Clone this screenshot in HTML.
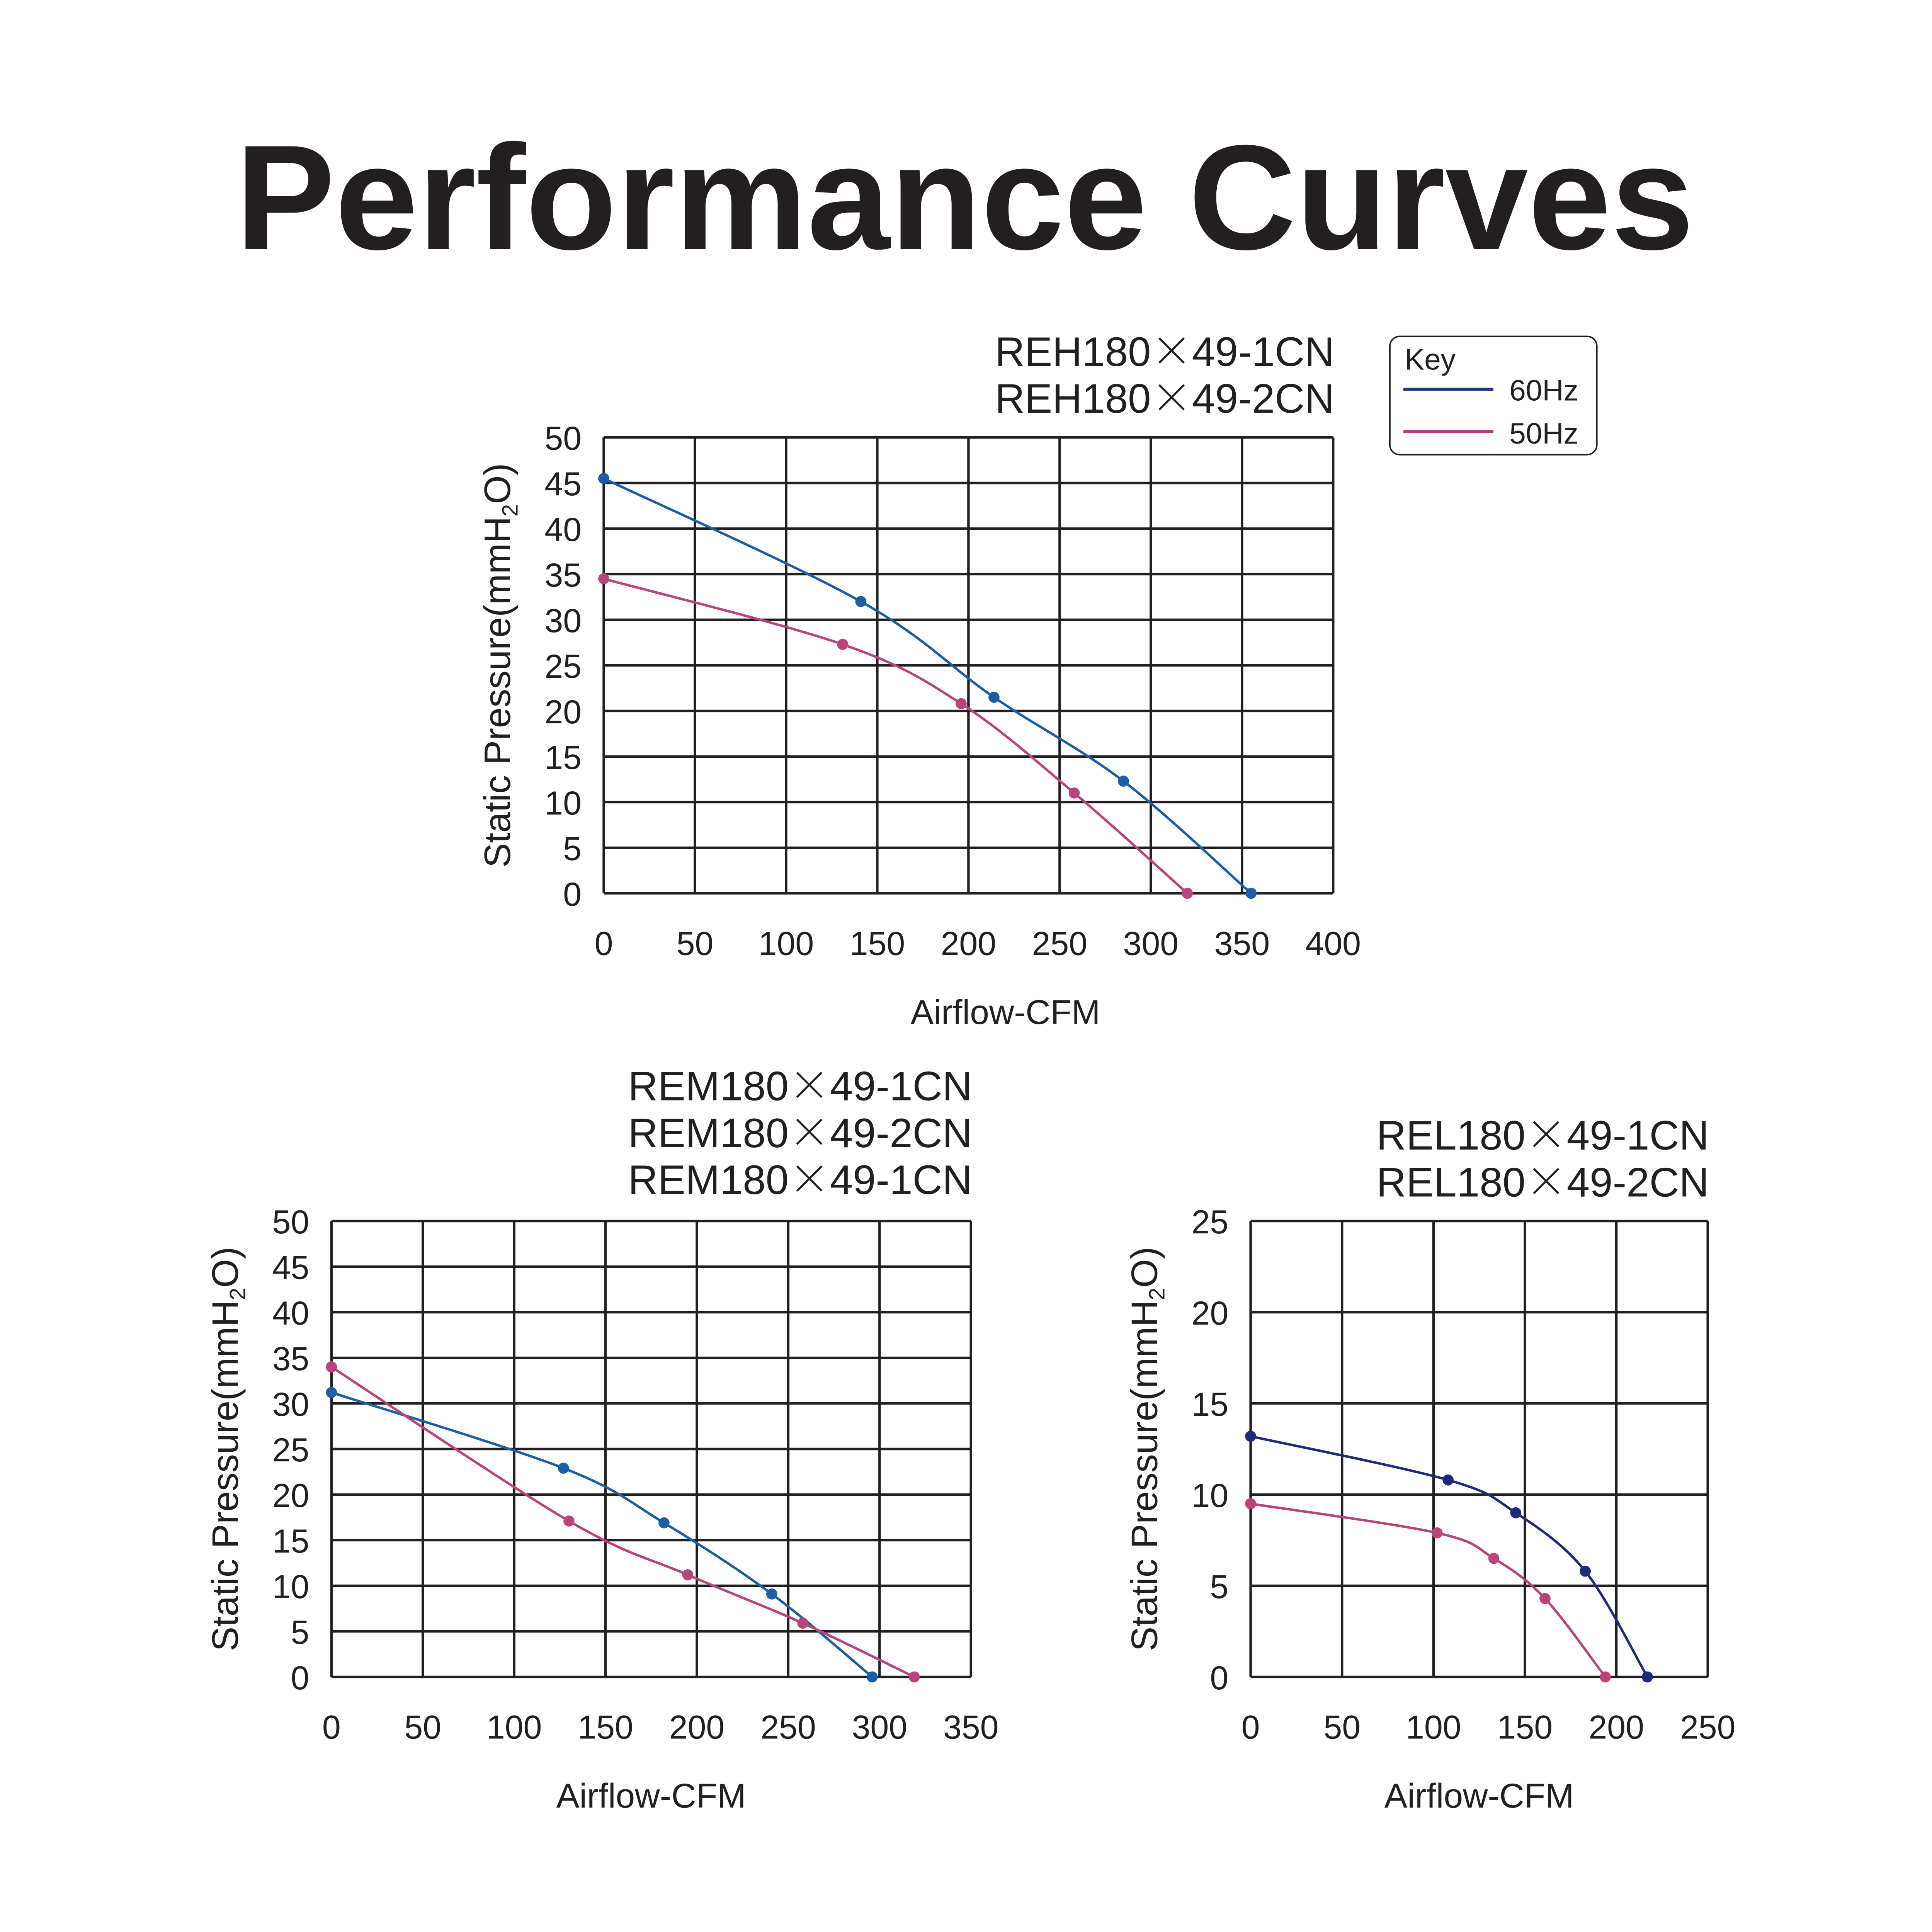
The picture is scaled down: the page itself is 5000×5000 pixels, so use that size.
<!DOCTYPE html>
<html><head><meta charset="utf-8"><style>
html,body{margin:0;padding:0;background:#fff}
svg{display:block}
text{font-family:"Liberation Sans",Arial,sans-serif;fill:#231f20}
.x{font-family:"Noto Sans CJK SC","Liberation Sans",sans-serif;font-weight:200}
</style></head><body>
<svg id="svg" width="5000" height="5000" viewBox="0 0 1568 1568" xmlns="http://www.w3.org/2000/svg">
<rect width="1568" height="1568" fill="#fff"/>
<text x="783" y="202" text-anchor="middle" font-size="121" font-weight="bold" fill="#000">Performance Curves</text>
<g id="c1"></g><g id="c2"></g><g id="c3"></g>
<g>
<rect x="1128" y="273" width="168" height="96" rx="8" fill="none" stroke="#231f20" stroke-width="1.2"/>
<text x="1140" y="300" font-size="24">Key</text>
<line x1="1139" y1="316" x2="1212" y2="316" stroke="#1f3a8a" stroke-width="2.5"/>
<text x="1225" y="325" font-size="24">60Hz</text>
<line x1="1139" y1="350" x2="1212" y2="350" stroke="#b83a78" stroke-width="2.5"/>
<text x="1225" y="360" font-size="24">50Hz</text>
</g>
</svg>
<script>
// Chart 1 data
const c1XTicks=[0,50,100,150,200,250,300,350,400];
const c1YTicks=[0,5,10,15,20,25,30,35,40,45,50];
const c1X60=[0,141,214,285,355];
const c1Y60=[45.5,32,21.5,12.3,0];
const c1X50=[0,131,196,258,320];
const c1Y50=[34.5,27.3,20.8,11,0];
// Chart 2 data
const c2XTicks=[0,50,100,150,200,250,300,350];
const c2YTicks=[0,5,10,15,20,25,30,35,40,45,50];
const c2X60=[0,127,182,241,296];
const c2Y60=[31.2,22.9,16.9,9.1,0];
const c2X50=[0,130,195,258,319];
const c2Y50=[34,17.1,11.2,5.9,0];
// Chart 3 data
const c3XTicks=[0,50,100,150,200,250];
const c3YTicks=[0,5,10,15,20,25];
const c3X60=[0,108,145,183,217];
const c3Y60=[13.2,10.8,9,5.8,0];
const c3X50=[0,102,133,161,194];
const c3Y50=[9.5,7.9,6.5,4.3,0];

const NS="http://www.w3.org/2000/svg";
function mk(p,tag,attrs,txt){const e=document.createElementNS(NS,tag);for(const k in attrs)e.setAttribute(k,attrs[k]);if(txt!==undefined)e.textContent=txt;p.appendChild(e);return e;}
function path(pts){let d="M"+pts[0][0]+","+pts[0][1];for(let i=0;i<pts.length-1;i++){const p0=pts[i-1]||pts[i],p1=pts[i],p2=pts[i+1],p3=pts[i+2]||p2;d+=" C"+(p1[0]+(p2[0]-p0[0])/6)+","+(p1[1]+(p2[1]-p0[1])/6)+" "+(p2[0]-(p3[0]-p1[0])/6)+","+(p2[1]-(p3[1]-p1[1])/6)+" "+p2[0]+","+p2[1];}return d;}
function chart(id,x0,x1,y0,y1,xt,yt,titles,tY,tX,series){
  const g=document.getElementById(id);
  const xmax=xt[xt.length-1],ymax=yt[yt.length-1];
  const sx=v=>x0+(x1-x0)*v/xmax, sy=v=>y1-(y1-y0)*v/ymax;
  xt.forEach(t=>{const l=mk(g,'line',{x1:sx(t),x2:sx(t),y1:y0,y2:y1,stroke:'#231f20','stroke-width':2});
    
    
    const tx=mk(g,'text',{x:sx(t),y:y1+50,'text-anchor':'middle','font-size':27},t);
    
    });
  yt.forEach(t=>{const l=mk(g,'line',{x1:x0,x2:x1,y1:sy(t),y2:sy(t),stroke:'#231f20','stroke-width':2});
    
    
    const tx=mk(g,'text',{x:x0-18,y:sy(t)+10,'text-anchor':'end','font-size':27},t);
    
    });
  const xl=mk(g,'text',{x:(x0+x1)/2+(id==='c1'?30:0),y:y1+106,'text-anchor':'middle','font-size':28},'Airflow-CFM');
  
  
  const yl=mk(g,'text',{transform:`translate(${x0-76},${(y0+y1)/2}) rotate(-90)`,'text-anchor':'middle','font-size':30});
  
  
  yl.innerHTML='Static Pressure(mmH<tspan font-size="18" dy="6">2</tspan><tspan dy="-6">O)</tspan>';
  titles.forEach((t,i)=>{const e=mk(g,'text',{x:tX,y:tY+i*38,'text-anchor':'end','font-size':33.5});
    
    
    const parts=t.split('×');
    e.innerHTML=parts[0]+'<tspan class="x">×</tspan>'+parts[1];});
  series.forEach(s=>{const pts=s.x.map((v,i)=>[sx(v),sy(s.y[i])]);
    const p=mk(g,'path',{d:path(pts),fill:'none',stroke:s.c,'stroke-width':2});
    
    
    pts.forEach(q=>{const c=mk(g,'circle',{cx:q[0],cy:q[1],r:4.5,fill:s.c});
      
      });});
}
chart('c1',490,1082,355,725,c1XTicks,c1YTicks,['REH180×49-1CN','REH180×49-2CN'],297,1083,
 [{x:c1X60,y:c1Y60,c:'#1a5ea8',n:'60hz'},{x:c1X50,y:c1Y50,c:'#b8447a',n:'50hz'}]);
chart('c2',269,788,991,1361,c2XTicks,c2YTicks,['REM180×49-1CN','REM180×49-2CN','REM180×49-1CN'],893,789,
 [{x:c2X60,y:c2Y60,c:'#1a5ea8',n:'60hz'},{x:c2X50,y:c2Y50,c:'#b8447a',n:'50hz'}]);
chart('c3',1015,1386,991,1361,c3XTicks,c3YTicks,['REL180×49-1CN','REL180×49-2CN'],933,1387,
 [{x:c3X60,y:c3Y60,c:'#1f2a7a',n:'60hz'},{x:c3X50,y:c3Y50,c:'#b8447a',n:'50hz'}]);
</script>
</body></html>
